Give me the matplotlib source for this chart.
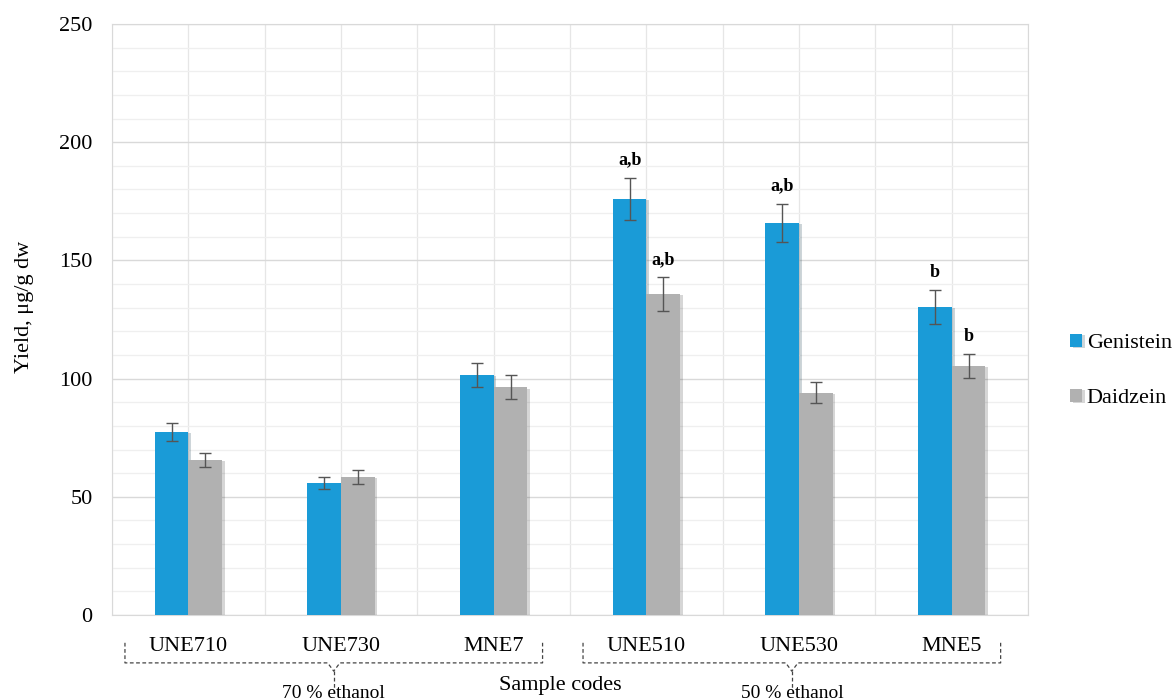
import numpy as np
import matplotlib.pyplot as plt
from matplotlib import patheffects as pe

plt.rcParams['font.family'] = ['Liberation Serif', 'DejaVu Serif']

samples = ['UNE710', 'UNE730', 'MNE7', 'UNE510', 'UNE530', 'MNE5']
genistein = [77.4, 55.8, 101.5, 176.0, 165.8, 130.3]
genistein_err = [4.0, 2.5, 5.0, 9.0, 8.0, 7.0]
daidzein = [65.6, 58.4, 96.4, 135.8, 94.0, 105.3]
daidzein_err = [3.0, 3.0, 5.0, 7.0, 4.5, 5.0]
gen_marks = ['', '', '', 'a,b', 'a,b', 'b']
dai_marks = ['', '', '', 'a,b', '', 'b']
groups = [('70 % ethanol', 0, 2), ('50 % ethanol', 3, 5)]

blue = '#1a9bd7'
grey = '#b1b1b1'

fig = plt.figure(figsize=(11.75, 7), dpi=100)
ax = fig.add_axes([0.0953, 0.1214, 0.7797, 0.8443])

x = np.arange(len(samples))
w = 0.22
shadow = [pe.SimplePatchShadow(offset=(2, -1), alpha=0.2), pe.Normal()]
ax.bar(x - w / 2, genistein, w, color=blue, label='Genistein', zorder=3,
       path_effects=shadow)
ax.bar(x + w / 2, daidzein, w, color=grey, label='Daidzein', zorder=3,
       path_effects=shadow)
ax.errorbar(x - w / 2, genistein, yerr=genistein_err, fmt='none', ecolor='#555555',
            elinewidth=1, capsize=4, capthick=1, zorder=4)
ax.errorbar(x + w / 2, daidzein, yerr=daidzein_err, fmt='none', ecolor='#555555',
            elinewidth=1, capsize=4, capthick=1, zorder=4)

# significance letters
for i in range(len(samples)):
    if gen_marks[i]:
        ax.text(x[i] - w / 2, genistein[i] + genistein_err[i] + 4, gen_marks[i],
                ha='center', va='bottom', fontsize=13, fontweight='bold')
    if dai_marks[i]:
        ax.text(x[i] + w / 2, daidzein[i] + daidzein_err[i] + 4, dai_marks[i],
                ha='center', va='bottom', fontsize=13, fontweight='bold')

ax.set_xlim(-0.5, len(samples) - 0.5)
ax.set_ylim(0, 250)
ax.set_yticks(np.arange(0, 251, 50))
ax.set_yticks(np.arange(0, 251, 10), minor=True)
ax.set_xticks(x)
ax.set_xticks(np.arange(-0.5, len(samples), 1.0), minor=True)
ax.set_xticklabels(samples, fontsize=16)
ax.tick_params(axis='y', labelsize=16, length=0, pad=14)
ax.tick_params(axis='x', length=0, pad=16)
ax.tick_params(which='minor', length=0)
ax.grid(axis='y', which='major', color='#d9d9d9', linewidth=1, zorder=0)
ax.grid(axis='y', which='minor', color='#efefef', linewidth=0.9, zorder=0)
ax.grid(axis='x', which='both', color='#e6e6e6', linewidth=0.9, zorder=0)
ax.set_axisbelow(True)
for s in ax.spines.values():
    s.set_color('#d9d9d9')

ax.set_ylabel('Yield, μg/g dw', fontsize=16)
ax.yaxis.set_label_coords(-0.085, 0.522)
ax.set_xlabel('Sample codes', fontsize=16)
ax.xaxis.set_label_coords(0.489, -0.103)

# dashed group braces under the tick labels
tr = ax.get_xaxis_transform()
for name, a, b in groups:
    left, right = a - 0.415, b + 0.32
    mid = (left + right) / 2
    kw = dict(color='#444444', lw=0.9, ls=(0, (3, 2)), transform=tr, clip_on=False)
    ax.plot([left, left, mid - 0.04, mid, mid + 0.04, right, right],
            [-0.047, -0.081, -0.081, -0.095, -0.081, -0.081, -0.047], **kw)
    ax.plot([mid, mid], [-0.095, -0.125], **kw)
    ax.text(mid, -0.133, name, transform=tr, ha='center', va='center', fontsize=14)

ax.legend(loc='center left', bbox_to_anchor=(1.036, 0.413), frameon=False, fontsize=16,
          handlelength=0.55, handleheight=0.55, handletextpad=0.2, labelspacing=1.6,
          borderaxespad=0)

fig.savefig('out.png', dpi=100)
